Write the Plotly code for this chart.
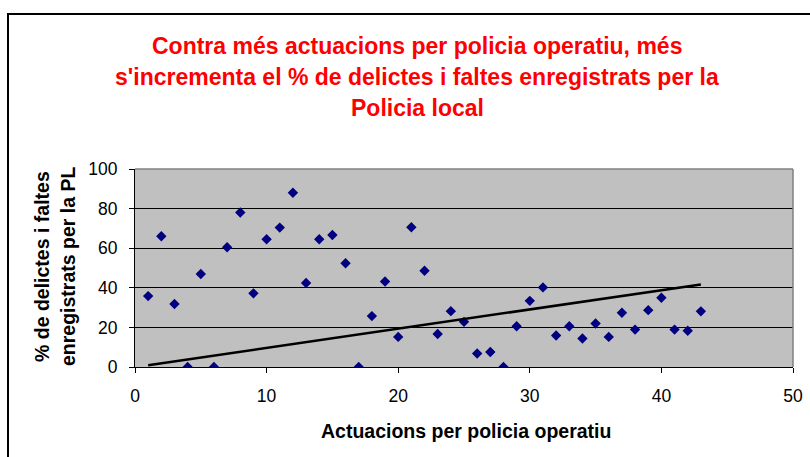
"""Scatter of police actions per officer vs % of offences registered by the local police."""

import plotly.graph_objects as go

W, H = 810, 457
FONT = "Liberation Sans, Arial, sans-serif"

actuacions = list(range(1, 44))
pct_delictes = [
    35.8, 66.0, 31.8, 0.0, 47.0, 0.0, 60.5, 78.0, 37.2, 64.5,
    70.4, 88.0, 42.4, 64.5, 66.7, 52.4, 0.0, 25.7, 43.2, 15.2,
    70.6, 48.6, 16.7, 28.2, 22.8, 6.8, 7.6, 0.0, 20.6, 33.4,
    40.2, 15.9, 20.6, 14.4, 22.0, 15.2, 27.4, 18.9, 28.7, 35.0,
    18.9, 18.3, 28.1,
]
trend_x = [1, 43]
trend_y = [0.9, 41.7]

x_ticks = [0, 10, 20, 30, 40, 50]
y_ticks = [0, 20, 40, 60, 80, 100]

title_lines = [
    "Contra més actuacions per policia operatiu, més",
    "s'incrementa el % de delictes i faltes enregistrats per la",
    "Policia local",
]
x_title = "Actuacions per policia operatiu"
y_title_lines = ["% de delictes i faltes", "enregistrats per la PL"]

# plot area in pixels
L, R, T, B = 135, 793, 169, 367
PW, PH = R - L, B - T


def px_x(p):
    return (p - L) / PW


def px_y(p):
    return (B - p) / PH


fig = go.Figure()
fig.add_trace(
    go.Scatter(
        x=actuacions,
        y=pct_delictes,
        mode="markers",
        marker={"symbol": "diamond", "size": 8, "color": "#000080"},
        showlegend=False,
    )
)
fig.add_trace(
    go.Scatter(
        x=trend_x,
        y=trend_y,
        mode="lines",
        line={"color": "black", "width": 2.5},
        showlegend=False,
    )
)

annotations = []
for i, line in enumerate(title_lines):
    annotations.append(
        {
            "text": f"<b>{line}</b>",
            "xref": "paper",
            "yref": "paper",
            "x": px_x(417),
            "y": px_y(46 + 31 * i),
            "xanchor": "center",
            "yanchor": "middle",
            "showarrow": False,
            "font": {"family": FONT, "size": 23, "color": "#FF0000"},
        }
    )
for i, line in enumerate(y_title_lines):
    annotations.append(
        {
            "text": f"<b>{line}</b>",
            "xref": "paper",
            "yref": "paper",
            "x": px_x(42 + 26 * i),
            "y": px_y(267),
            "xanchor": "center",
            "yanchor": "middle",
            "textangle": -90,
            "showarrow": False,
            "font": {"family": FONT, "size": 19.5, "color": "black"},
        }
    )
annotations.append(
    {
        "text": f"<b>{x_title}</b>",
        "xref": "paper",
        "yref": "paper",
        "x": px_x(466),
        "y": px_y(431),
        "xanchor": "center",
        "yanchor": "middle",
        "showarrow": False,
        "font": {"family": FONT, "size": 19.5, "color": "black"},
    }
)

shapes = [
    # outer chart border (only top and left edges are visible)
    {
        "type": "rect",
        "xref": "paper",
        "yref": "paper",
        "x0": px_x(8),
        "x1": px_x(830),
        "y0": px_y(14),
        "y1": px_y(480),
        "line": {"color": "black", "width": 2},
    },
    {
        "type": "line",
        "xref": "paper",
        "yref": "paper",
        "x0": 0,
        "x1": 1,
        "y0": 1,
        "y1": 1,
        "line": {"color": "#808080", "width": 1.5},
        "layer": "above",
    },
    {
        "type": "line",
        "xref": "paper",
        "yref": "paper",
        "x0": 1,
        "x1": 1,
        "y0": 0,
        "y1": 1,
        "line": {"color": "#808080", "width": 1.5},
        "layer": "above",
    },
]

axis_common = {
    "showgrid": False,
    "zeroline": False,
    "showline": True,
    "linecolor": "black",
    "linewidth": 1,
    "ticks": "outside",
    "ticklen": 5,
    "tickcolor": "black",
    "ticklabelstandoff": 8,
    "automargin": False,
}

fig.update_layout(
    width=W,
    height=H,
    autosize=False,
    margin={"l": L, "r": W - R, "t": T, "b": H - B, "pad": 0},
    paper_bgcolor="white",
    plot_bgcolor="#C0C0C0",
    font={"family": FONT, "size": 17.5, "color": "black"},
    annotations=annotations,
    shapes=shapes,
    xaxis={**axis_common, "range": [0, 50], "tickvals": x_ticks},
    yaxis={
        **axis_common,
        "range": [0, 100],
        "tickvals": y_ticks,
        "showgrid": True,
        "gridcolor": "black",
        "gridwidth": 1,
    },
)

# drop the browser's default body margin so the figure sits at the page corner
fig.write_html(
    "out.html",
    config={"displayModeBar": False},
    post_script="document.body.style.margin = '0px';",
)
